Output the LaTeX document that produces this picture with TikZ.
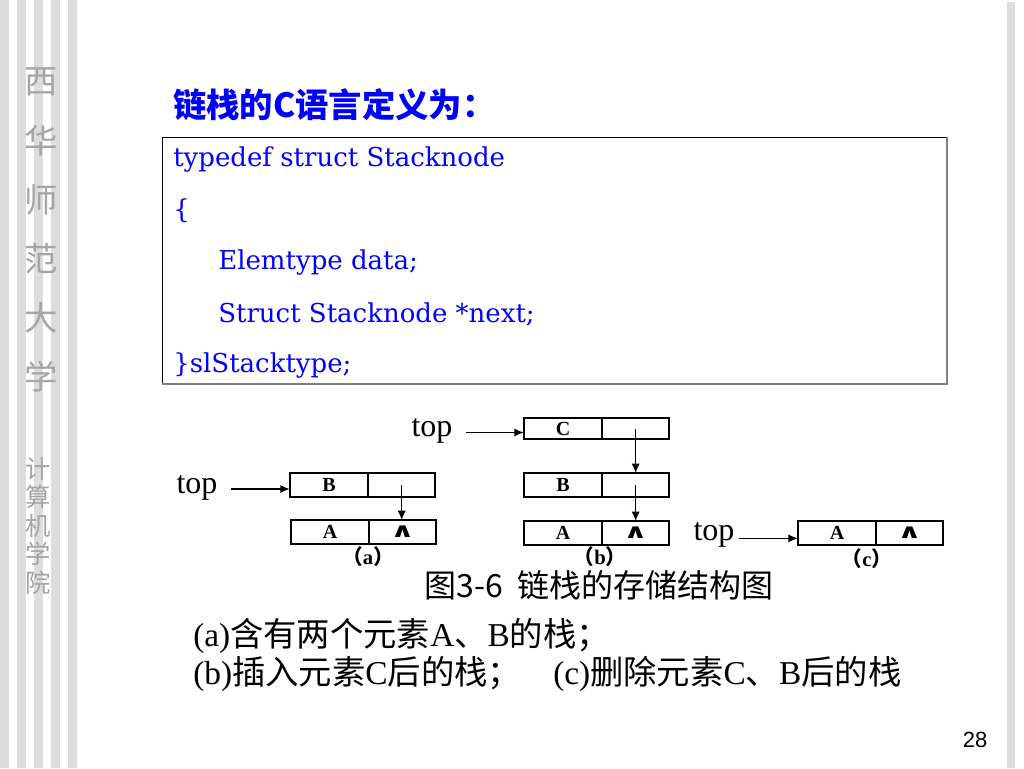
\documentclass[tikz,border=0pt]{standalone}
\usepackage{graphicx}
\usepackage{fontspec}
\setmainfont{Liberation Serif}
\setsansfont{Liberation Sans}
\newfontfamily\cjk{Noto Sans CJK SC}
\newfontfamily\codefont{DejaVu Serif}
\newfontfamily\symfont{DejaVu Sans}
\usetikzlibrary{arrows.meta,positioning}

\definecolor{stripe}{RGB}{221,221,221}
\definecolor{codeblue}{RGB}{0,0,255}
\definecolor{boxshade}{RGB}{128,128,128}
\definecolor{emboss}{RGB}{165,165,165}

\newcommand{\nil}{\scalebox{1.5}[1]{\symfont\bfseries ∧}}

\tikzset{
  cell/.style={draw, line width=1.5pt, minimum height=18pt, inner sep=0pt,
               outer sep=0pt, font=\bfseries\fontsize{15}{15}\selectfont},
  datacell/.style={cell, minimum width=59pt},
  linkcell/.style={cell, minimum width=50pt, right=0pt of #1},
  ptr/.style={-{Latex[length=7pt,width=6pt]}, line width=0.8pt},
  toplabel/.style={inner sep=0pt, font=\fontsize{24}{24}\selectfont},
  sublabel/.style={inner sep=0pt, font=\bfseries\fontsize{15.5}{15.5}\selectfont},
  codeline/.style={anchor=west, inner sep=0pt, text=codeblue,
                   font=\codefont\fontsize{19.5}{19.5}\selectfont},
  capline/.style={anchor=west, inner sep=0pt, font=\fontsize{25}{25}\selectfont},
  sidechar/.style={inner sep=0pt, text=emboss, font=\cjk\fontsize{25}{25}\selectfont}
}

\begin{document}
\begin{tikzpicture}[x=0.75pt, y=-0.75pt]
\useasboundingbox (0,0) rectangle (1024,768);
% stripes of the slide
\foreach \xs in {0,17,34,51,68}
  \fill[stripe] (\xs,0) rectangle ++(9,768);
\fill[stripe] (1007,2) rectangle (1015,768);
\foreach \ch [count=\i] in {西,华,师,范,大,学}
  \node[sidechar] (s\i) at (41,{23+59*\i}) {\ch};
\foreach \ch [count=\i] in {计,算,机,学,院}
  \node[sidechar, font=\cjk\fontsize{19}{19}\selectfont] (d\i) at (38,{440+28.5*\i}) {\ch};

% title and code
\node[anchor=west, inner sep=0pt, text=codeblue,
      font=\cjk\bfseries\fontsize{25}{25}\selectfont] (title) at (173,105) {链栈的C语言定义为：};
\draw[line width=0.75pt] (162,384) -- (162,137) -- (947,137);
\draw[boxshade, line width=1.5pt] (947,137) -- (947,384) -- (162,384);
\node[codeline] (l1) at (173,160) {typedef struct Stacknode};
\node[codeline] (l2) at (173,211) {\{};
\node[codeline] (l3) at (218,263) {Elemtype data;};
\node[codeline] (l4) at (218,314) {Struct Stacknode *next;};
\node[codeline] (l5) at (173,366) {\}slStacktype;};

% (a)
\node[toplabel] (topa) at (197,488) {top};
\node[datacell] (aB) at (329,485) {B};
\node[linkcell=aB] (aBn) {};
\node[datacell] (aA) at (330,532) {A};
\node[linkcell=aA] (aAn) {\nil};
\node[sublabel] (capa) at (368,557) {{\cjk （}a{\cjk ）}};
\coordinate (aBin) at ([yshift=-3pt]aB.west);
\draw[ptr] ([xshift=10pt]topa.east |- aBin) -- (aBin);
\draw[ptr] (aBn.center) -- (aBn.center |- aA.north);

% (b)
\node[toplabel] (topb) at (432,431) {top};
\node[datacell, minimum height=16pt] (bC) at (563,428.5) {C};
\node[linkcell=bC, minimum height=16pt] (bCn) {};
\node[datacell] (bB) at (563,485) {B};
\node[linkcell=bB] (bBn) {};
\node[datacell] (bA) at (563,533) {A};
\node[linkcell=bA] (bAn) {\nil};
\node[sublabel] (capb) at (600,557) {{\cjk （}b{\cjk ）}};
\coordinate (bCin) at ([yshift=-3pt]bC.west);
\draw[ptr] ([xshift=10pt]topb.east |- bCin) -- (bCin);
\draw[ptr] (bCn.center) -- (bCn.center |- bB.north);
\draw[ptr] (bBn.center) -- (bBn.center |- bA.north);

% (c)
\node[toplabel] (topc) at (714,535) {top};
\node[datacell] (cA) at (837,533) {A};
\node[linkcell=cA] (cAn) {\nil};
\node[sublabel] (capc) at (867,559) {{\cjk （}c{\cjk ）}};
\coordinate (cAin) at ([yshift=-4pt]cA.west);
\draw[ptr] ([xshift=3pt]topc.east |- cAin) -- (cAin);

% captions
\node[inner sep=0pt, font=\cjk\fontsize{24}{24}\selectfont] (fig) at (599,585) {图3-6\ \ 链栈的存储结构图};
\node[capline] (nota) at (193,636) {(a){\cjk 含有两个元素}A{\cjk 、}B{\cjk 的栈；}};
\node[capline] (notb) at (193,674) {(b){\cjk 插入元素}C{\cjk 后的栈；}};
\node[capline] (notc) at (553,674) {(c){\cjk 删除元素}C{\cjk 、}B{\cjk 后的栈}};

\node[font=\sffamily\fontsize{16.5}{16.5}\selectfont] (page) at (975,740) {28};
\end{tikzpicture}
\end{document}
